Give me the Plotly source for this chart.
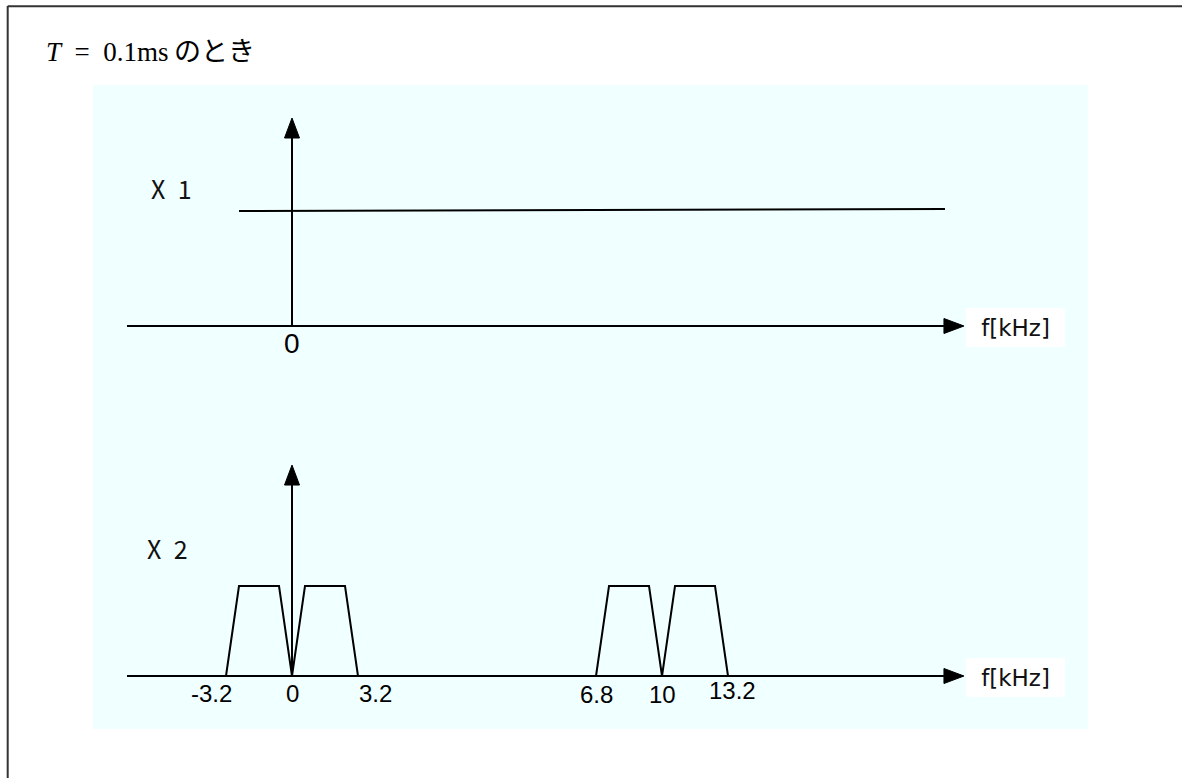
import plotly.graph_objects as go

# ---------------- data ----------------
# X1 : flat spectrum (display units = kHz along the schematic axis)
x1_line_f = [-2.57, 31.66]
x1_line_amp = [0.991, 1.009]

# X2 : trapezoidal bands (kHz)  (start, end, mirrored?)
x2_bands = [(-3.2, 0.0, True), (0.0, 3.2, False), (6.8, 10.0, True), (10.0, 13.2, False)]
band_rise = 0.63          # kHz of slope at each edge
band_amp = 1.0

tick_vals = [-3.2, 0.0, 3.2, 6.8, 10.0, 13.2]
tick_text = ["-3.2", "0", "3.2", "6.8", "10", "13.2"]

axis_left_f = -8.0
axis_tip_f = 32.58
top_arrow_amp = 1.793
bot_arrow_amp = 2.344

# schematic break: frequencies above this are drawn shifted left
BREAK_AT = 5.0
BREAK_SHIFT = 7.94

# ---------------- layout constants ----------------
W, H = 1182, 778
PX_PER_U = 20.625
X0_PX = 292
TOP_BASE_PX, TOP_UNIT_PX = 326, 116
BOT_BASE_PX, BOT_UNIT_PX = 676, 90
LW = 2


def disp(f):
    return f + BREAK_SHIFT if f > BREAK_AT else f


xr = [-X0_PX / PX_PER_U, (W - X0_PX) / PX_PER_U]
yr_top = [(TOP_BASE_PX - H) / TOP_UNIT_PX, TOP_BASE_PX / TOP_UNIT_PX]
yr_bot = [(BOT_BASE_PX - H) / BOT_UNIT_PX, BOT_BASE_PX / BOT_UNIT_PX]

fig = go.Figure()


def line(xs, ys, yaxis):
    fig.add_trace(go.Scatter(x=xs, y=ys, mode="lines", yaxis=yaxis,
                             line=dict(color="black", width=LW),
                             hoverinfo="skip", showlegend=False))


def tri(xs, ys, yaxis):
    fig.add_trace(go.Scatter(x=xs + [xs[0]], y=ys + [ys[0]], mode="lines", yaxis=yaxis,
                             fill="toself", fillcolor="black",
                             line=dict(color="black", width=1),
                             hoverinfo="skip", showlegend=False))


head_len_px, head_half_px = 20, 7.5

for yaxis, unit, arrow_amp in (("y", TOP_UNIT_PX, top_arrow_amp), ("y2", BOT_UNIT_PX, bot_arrow_amp)):
    hl_u = head_len_px / PX_PER_U
    hh_a = head_half_px / unit
    # horizontal axis
    line([axis_left_f, axis_tip_f - hl_u], [0, 0], yaxis)
    tri([axis_tip_f, axis_tip_f - hl_u, axis_tip_f - hl_u], [0, hh_a, -hh_a], yaxis)
    # vertical axis
    hl_a = head_len_px / unit
    hh_u = head_half_px / PX_PER_U
    line([0, 0], [0, arrow_amp - hl_a], yaxis)
    tri([0, -hh_u, hh_u], [arrow_amp, arrow_amp - hl_a, arrow_amp - hl_a], yaxis)

# X1 flat line
line(x1_line_f, x1_line_amp, "y")

# X2 trapezoids
for a, b, mirrored in x2_bands:
    fs = [a, a + band_rise, b - band_rise, b]
    amps = [0, band_amp, band_amp, 0]
    line([disp(f) for f in fs], amps, "y2")

annotations = []
# tick labels, bottom
lab_dx = [-15, 0, 17, 0, 0, 4]
lab_dy = [-17, -17, -17, -18, -18, -14.5]
for v, t, dx, dy in zip(tick_vals, tick_text, lab_dx, lab_dy):
    annotations.append(dict(x=disp(v), y=0, xref="x", yref="y2", text=t, showarrow=False,
                            xshift=dx, yshift=dy,
                            font=dict(family="Liberation Sans, Arial", size=24, color="black")))
# top "0"
annotations.append(dict(x=0, y=0, xref="x", yref="y", text="0", showarrow=False,
                        yshift=-17, font=dict(family="Liberation Sans, Arial", size=28, color="black")))
# f[kHz] boxes
for yref in ("y", "y2"):
    annotations.append(dict(x=axis_tip_f, y=0, xref="x", yref=yref, text="f[kHz]", showarrow=False,
                            xanchor="center", yanchor="middle", xshift=51.5, yshift=-1.5,
                            width=99, height=39, bgcolor="white", borderpad=0, borderwidth=0,
                            font=dict(family="DejaVu Sans", size=23, color="#111111")))
# X1 / X2 labels
annotations.append(dict(x=0, y=0, xref="x", yref="y", text="X\u20021", showarrow=False,
                        xshift=171 - X0_PX, yshift=TOP_BASE_PX - 188,
                        font=dict(family="Noto Sans CJK JP", size=25, color="#111111")))
annotations.append(dict(x=0, y=0, xref="x", yref="y2", text="X\u20022", showarrow=False,
                        xshift=167 - X0_PX, yshift=BOT_BASE_PX - 548,
                        font=dict(family="Noto Sans CJK JP", size=25, color="#111111")))
# title
annotations.append(dict(x=44 / W, y=1 - 49 / H, xref="paper", yref="paper", xanchor="left", yanchor="middle",
                        showarrow=False,
                        text="<span style='font-family:Liberation Serif'><i>T</i>\u2002=\u20020.1ms\u2009</span>"
                             "<span style='font-family:Noto Sans CJK JP'>のとき</span>",
                        font=dict(family="Liberation Serif, Noto Sans CJK JP", size=27, color="black")))

shapes = [
    dict(type="rect", xref="paper", yref="paper", x0=93 / W, x1=1088 / W, y0=1 - 729 / H, y1=1 - 85 / H,
         fillcolor="#F0FFFF", line=dict(width=0), layer="below"),
    dict(type="line", xref="paper", yref="paper", x0=7.7 / W, x1=7.7 / W, y0=0, y1=1 - 6 / H,
         line=dict(color="#333333", width=2)),
    dict(type="line", xref="paper", yref="paper", x0=7.7 / W, x1=1, y0=1 - 6.2 / H, y1=1 - 6.2 / H,
         line=dict(color="#333333", width=2)),
]

fig.update_layout(
    width=W, height=H, margin=dict(l=0, r=0, t=0, b=0),
    paper_bgcolor="white", plot_bgcolor="rgba(0,0,0,0)",
    xaxis=dict(range=xr, visible=False, fixedrange=True),
    yaxis=dict(range=yr_top, visible=False, fixedrange=True),
    yaxis2=dict(range=yr_bot, visible=False, overlaying="y", fixedrange=True),
    annotations=annotations, shapes=shapes, showlegend=False,
)

fig.write_html("out.html", config={"displayModeBar": False},
               post_script="document.body.style.margin='0';document.body.style.overflow='hidden';")
